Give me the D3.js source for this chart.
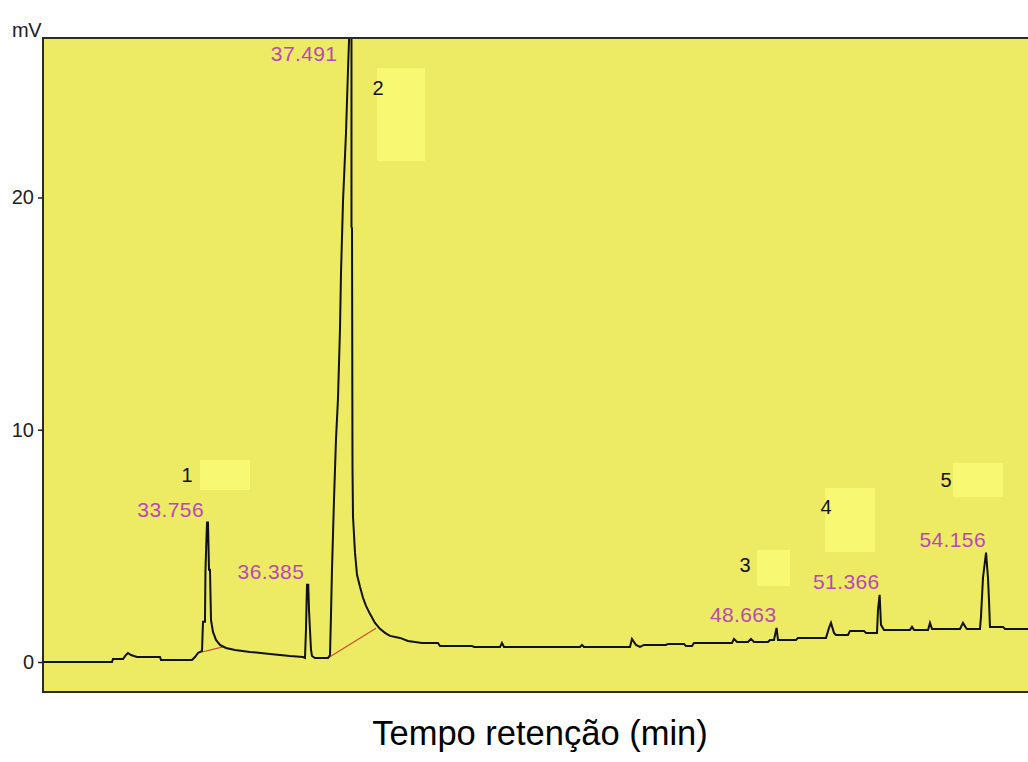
<!DOCTYPE html>
<html>
<head>
<meta charset="utf-8">
<script src="https://cdn.jsdelivr.net/npm/d3@7"></script>
<style>
  body { margin: 0; background: #fff; }
  svg { display: block; font-family: "Liberation Sans", Arial, sans-serif; }
</style>
</head>
<body>
<div id="container"></div>
<script>
// chromatogram trace (min, mV)
const rtMin = [29.430, 31.239, 31.265, 31.527, 31.606, 31.658, 31.737, 31.894, 32.497, 32.524,
  33.336, 33.415, 33.494, 33.599, 33.625, 33.677, 33.690, 33.730, 33.756, 33.782,
  33.808, 33.835, 33.887, 33.966, 34.071, 34.228, 34.464, 34.857, 35.382, 35.906,
  36.247, 36.299, 36.325, 36.352, 36.385, 36.404, 36.430, 36.457, 36.483, 36.561,
  36.902, 36.955, 36.981, 37.007, 37.060, 37.112, 37.164, 37.217, 37.243, 37.296,
  37.374, 37.427, 37.491, 37.518, 37.518, 37.532, 37.545, 37.558, 37.610, 37.663,
  37.741, 37.820, 37.899, 38.003, 38.135, 38.266, 38.397, 38.528, 38.790, 39.000,
  39.367, 39.786, 39.839, 40.678, 40.730, 41.412, 41.464, 41.517, 43.509, 43.562,
  43.614, 44.820, 44.873, 44.978, 45.083, 45.187, 45.764, 45.817, 46.236, 46.289,
  46.446, 46.498, 47.495, 47.547, 47.626, 47.914, 47.993, 48.072, 48.439, 48.491,
  48.596, 48.663, 48.701, 49.173, 49.225, 49.959, 50.038, 50.090, 50.169, 50.222,
  50.536, 50.589, 50.956, 51.008, 51.297, 51.323, 51.366, 51.401, 51.480, 52.162,
  52.214, 52.267, 52.634, 52.686, 52.739, 53.473, 53.551, 53.630, 53.656, 53.997,
  54.023, 54.076, 54.156, 54.207, 54.233, 54.259, 54.600, 54.653, 55.256];
const signalMv = [0.000, 0.000, 0.130, 0.130, 0.302, 0.389, 0.302, 0.216, 0.216, 0.086,
  0.086, 0.216, 0.389, 0.475, 1.728, 1.728, 3.974, 6.004, 6.004, 3.974,
  3.974, 1.814, 1.296, 0.950, 0.734, 0.605, 0.518, 0.432, 0.346, 0.259,
  0.216, 0.173, 1.382, 3.326, 3.326, 2.246, 1.382, 0.518, 0.259, 0.173,
  0.173, 0.302, 2.030, 3.974, 6.998, 9.590, 11.318, 14.341, 16.717, 19.827,
  22.765, 25.486, 28.500, 27.500, 18.747, 18.661, 8.294, 6.264, 4.708, 3.758,
  3.240, 2.765, 2.419, 2.073, 1.685, 1.426, 1.253, 1.123, 1.037, 0.907,
  0.821, 0.821, 0.691, 0.691, 0.648, 0.648, 0.821, 0.648, 0.648, 0.734,
  0.648, 0.648, 0.994, 0.734, 0.648, 0.734, 0.734, 0.778, 0.778, 0.691,
  0.691, 0.821, 0.821, 0.994, 0.864, 0.864, 0.994, 0.864, 0.864, 0.950,
  0.950, 1.469, 0.950, 0.950, 1.037, 1.037, 1.469, 1.685, 1.253, 1.166,
  1.166, 1.339, 1.339, 1.253, 1.253, 2.246, 2.894, 1.598, 1.382, 1.382,
  1.512, 1.382, 1.382, 1.685, 1.426, 1.426, 1.685, 1.469, 1.426, 1.426,
  1.944, 3.629, 4.708, 3.629, 2.678, 1.512, 1.512, 1.426, 1.426];

// integration baselines (red) under peaks 1 and 2
const baseSegments = [
  [[33.494, 0.389], [34.176, 0.659]],
  [[36.902, 0.173], [38.161, 1.450]]
];

// retention time labels; peak 2 runs off the top, its label sits at 25.6 mV
const peakTimes = [33.756, 36.385, 37.491, 48.663, 51.366, 54.156];
const peakTops = [6.004, 3.326, 25.6, 1.469, 2.894, 4.708];

// peak numbers and where they sit
const peakNumbers = ["1", "2", "3", "4", "5"];
const numberAt = [[33.205, 8.05], [38.213, 24.71], [47.836, 4.18], [49.960, 6.67], [53.106, 7.84]];

const yTicks = [0, 10, 20];

const W = 1028, H = 762;
const plot = {left: 43, right: 1028, top: 38, bottom: 692};

const svg = d3.select("#container").append("svg")
  .attr("width", W).attr("height", H);

const x = d3.scaleLinear().domain([29.430, 55.256]).range([plot.left, plot.right]);
const y = d3.scaleLinear().domain([0, 20]).range([662, 197.5]);

svg.append("clipPath").attr("id", "clip")
  .append("rect")
  .attr("x", plot.left).attr("y", plot.top)
  .attr("width", plot.right - plot.left).attr("height", plot.bottom - plot.top);

// background
svg.append("rect")
  .attr("x", plot.left).attr("y", plot.top)
  .attr("width", plot.right - plot.left).attr("height", plot.bottom - plot.top)
  .attr("fill", "#eceb63");

// pale label boxes left over from the software
const boxes = [[13, -15, 50, 30], [-1, -20, 48, 93], [12, -15, 33, 36], [-1, -19, 50, 64], [7, -17, 50, 34]];
svg.append("g").attr("clip-path", "url(#clip)")
  .selectAll("rect").data(numberAt).join("rect")
  .attr("x", (d, i) => x(d[0]) + boxes[i][0])
  .attr("y", (d, i) => y(d[1]) + boxes[i][1])
  .attr("width", (d, i) => boxes[i][2])
  .attr("height", (d, i) => boxes[i][3])
  .attr("fill", "#f8f872");

const g = svg.append("g").attr("clip-path", "url(#clip)");

g.selectAll(".base").data(baseSegments).join("line")
  .attr("class", "base")
  .attr("x1", d => x(d[0][0])).attr("y1", d => y(d[0][1]))
  .attr("x2", d => x(d[1][0])).attr("y2", d => y(d[1][1]))
  .attr("stroke", "#c8502a").attr("stroke-width", 1.2);

const trace = rtMin.map((t, i) => [t, signalMv[i]]);
g.append("path")
  .datum(trace)
  .attr("fill", "none")
  .attr("stroke", "#111")
  .attr("stroke-width", 2)
  .attr("stroke-linejoin", "miter")
  .attr("d", d3.line().x(d => x(d[0])).y(d => y(d[1])));

// frame
svg.append("path")
  .attr("d", `M${plot.right},${plot.top}H${plot.left}V${plot.bottom}H${plot.right}`)
  .attr("fill", "none").attr("stroke", "#2a2a2a").attr("stroke-width", 2);

// y axis
const yAxis = svg.append("g")
  .attr("transform", `translate(${plot.left},0)`)
  .call(d3.axisLeft(y).tickValues(yTicks).tickSize(5).tickPadding(4).tickSizeOuter(0));
yAxis.select(".domain").remove();
yAxis.selectAll("line").attr("stroke", "#222").attr("stroke-width", 1.5);
yAxis.selectAll("text").attr("font-size", 20).attr("fill", "#222")
  .attr("font-family", "'Liberation Sans', Arial, sans-serif");

svg.append("text")
  .attr("x", 12).attr("y", 37)
  .attr("font-size", 20).attr("fill", "#222")
  .attr("letter-spacing", -0.5)
  .text("mV");

// retention time labels
svg.selectAll(".rt").data(peakTimes).join("text")
  .attr("class", "rt")
  .attr("x", (d, i) => x(d) + (i === 2 ? -13 : (i >= 3 ? 0 : -4)))
  .attr("y", (d, i) => y(peakTops[i]) - 6)
  .attr("text-anchor", "end")
  .attr("font-size", 21)
  .attr("letter-spacing", 0.4)
  .attr("fill", "#b848b8")
  .text(d => d.toFixed(3));

// peak numbers
svg.selectAll(".pn").data(numberAt).join("text")
  .attr("class", "pn")
  .attr("x", d => x(d[0]))
  .attr("y", d => y(d[1]) + 7)
  .attr("text-anchor", "middle")
  .attr("font-size", 20)
  .attr("fill", "#111")
  .text((d, i) => peakNumbers[i]);

svg.append("text")
  .attr("x", 540).attr("y", 745)
  .attr("text-anchor", "middle")
  .attr("font-size", 34.5)
  .attr("fill", "#000")
  .text("Tempo retenção (min)");
</script>
</body>
</html>
